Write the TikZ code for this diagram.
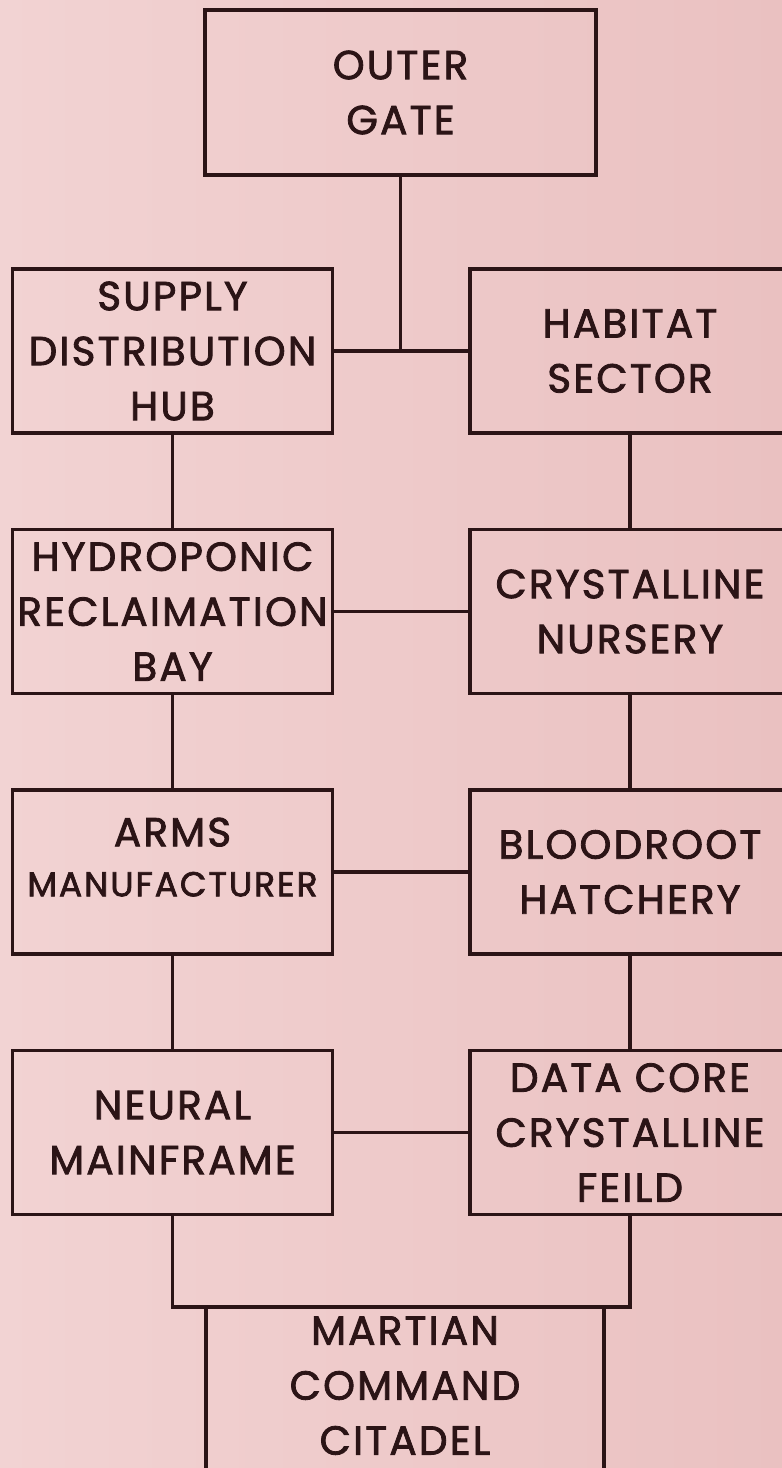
\documentclass[tikz,border=0pt]{standalone}
\usepackage{fontspec}
\setmainfont{Poppins}[FakeBold=2, LetterSpace=5.5]
\usepackage{tikz}
\usetikzlibrary{positioning}
\definecolor{marsbgl}{HTML}{F2D3D3}
\definecolor{marsbgd}{HTML}{EAC1C1}
\definecolor{inkbrown}{HTML}{2B1416}

\begin{document}
\begin{tikzpicture}[
  x=1pt, y=-1pt,
  node distance=93pt and 134pt,
  room/.style={draw=inkbrown, line width=3.5pt, align=center, inner sep=0pt,
               minimum width=320pt, minimum height=164pt,
               font=\fontsize{40.5}{55}\selectfont, text=inkbrown},
  link/.style={draw=inkbrown, line width=3.5pt}
]
\useasboundingbox (0,0) rectangle (782,1468);
\shade[left color=marsbgl, right color=marsbgd] (0,0) rectangle (782,1468);
\clip (0,0) rectangle (782,1468);

\node[room, minimum width=391pt, minimum height=165pt] (gate) at (400.5,92.5) {OUTER\\GATE};
\node[room] (supply) at (172.5,351) {SUPPLY\\DISTRIBUTION\\HUB};
\node[room, right=of supply] (habitat) {HABITAT\\SECTOR};
\node[room, below=of supply] (hydro) {HYDROPONIC\\RECLAIMATION\\BAY};
\node[room, below=of habitat] (nursery) {CRYSTALLINE\\NURSERY};
\node[room, below=of hydro, text depth=30pt] (arms) {ARMS\\[-5pt]\fontsize{34.5}{50}\selectfont MANUFACTURER};
\node[room, below=of nursery] (hatchery) {BLOODROOT\\HATCHERY};
\node[room, below=of arms] (neural) {NEURAL\\MAINFRAME};
\node[room, below=of hatchery] (datacore) {DATA CORE\\CRYSTALLINE\\FEILD};
\coordinate (joint) at (neural.south |- 0,1307);
\node[room, anchor=north, minimum width=398pt, minimum height=175pt, text depth=18pt] (citadel) at (405,1305.25) {MARTIAN\\COMMAND\\CITADEL};

\draw[link] (gate.south) -- (gate.south |- supply.east);
\draw[link] (supply.east) -- (habitat.west);
\draw[link] (supply) -- (hydro);
\draw[link] (habitat) -- (nursery);
\draw[link] (hydro) -- (nursery);
\draw[link] (hydro) -- (arms);
\draw[link] (nursery) -- (hatchery);
\draw[link] (arms) -- (hatchery);
\draw[link] (arms) -- (neural);
\draw[link] (hatchery) -- (datacore);
\draw[link] (neural) -- (datacore);
\draw[link] (neural.south) -- (joint) -| (datacore.south);
\end{tikzpicture}
\end{document}
